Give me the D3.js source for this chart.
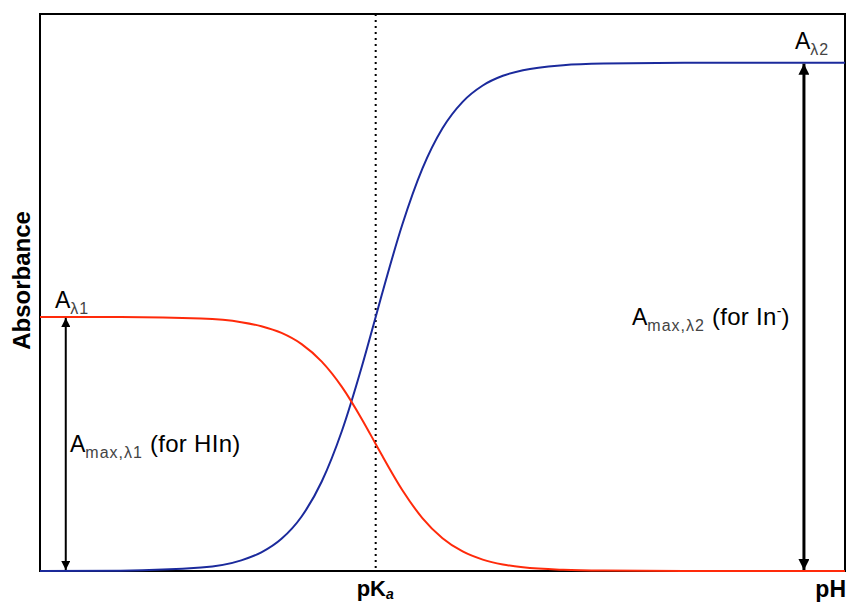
<!DOCTYPE html>
<html>
<head>
<meta charset="utf-8">
<script src="https://cdn.jsdelivr.net/npm/d3@7/dist/d3.min.js"></script>
<style>
  html, body { margin: 0; padding: 0; background: #ffffff; }
  svg { display: block; font-family: Arial, "Liberation Sans", Helvetica, sans-serif; }
</style>
</head>
<body>
<svg id="chart" width="847" height="602"></svg>
<script>
// ---- data ----
const pH = [0, 1, 2, 2.5, 2.75, 3, 3.25, 3.5, 3.75, 4, 4.17, 4.25, 4.5, 4.75, 5, 5.25, 5.5, 5.75, 6, 6.5, 7, 8, 9, 10];
const absLambda2 = [0.0001, 0.0007, 0.0067, 0.0209, 0.0366, 0.0633, 0.1073, 0.1761, 0.2755, 0.4034, 0.5, 0.5459, 0.6813, 0.7917, 0.8711, 0.9232, 0.9553, 0.9744, 0.9854, 0.9953, 0.9985, 0.9999, 1.0, 1.0];
const absLambda1 = [0.5, 0.4997, 0.4967, 0.4896, 0.4817, 0.4684, 0.4464, 0.4120, 0.3623, 0.2983, 0.25, 0.2271, 0.1594, 0.1042, 0.0645, 0.0384, 0.0224, 0.0128, 0.0073, 0.0024, 0.0008, 0.0001, 0, 0];
const pKa = 4.17;
const AmaxL1 = 0.5;
const AmaxL2 = 1.0;
const arrowPH = [0.32, 9.49];
const xAxisLabels = ["pK", "pH"];

// ---- layout ----
const svg = d3.select("#chart");
const L = 40, R = 845, T = 14, B = 571;
const x = d3.scaleLinear().domain([0, 10]).range([L, R]);
const y = d3.scaleLinear().domain([0, 1.096]).range([B, T]);

const pts1 = pH.map((p, i) => [p, absLambda1[i]]);
const pts2 = pH.map((p, i) => [p, absLambda2[i]]);

const defs = svg.append("defs");
function marker(id, w, h, orientStart) {
  defs.append("marker")
    .attr("id", id).attr("viewBox", "0 0 10 10")
    .attr("refX", 10).attr("refY", 5)
    .attr("markerUnits", "userSpaceOnUse")
    .attr("markerWidth", w).attr("markerHeight", h)
    .attr("orient", orientStart ? "auto-start-reverse" : "auto")
    .append("path").attr("d", "M0,0 L10,5 L0,10 z").attr("fill", "#000");
}
marker("arrS", 9, 9, true);
marker("arrE", 9, 9, false);
marker("arrS2", 11, 11, true);
marker("arrE2", 11, 11, false);

// frame
svg.append("rect").attr("x", L).attr("y", T).attr("width", R - L).attr("height", B - T)
  .attr("fill", "none").attr("stroke", "#000").attr("stroke-width", 2);

// dotted pKa line
svg.append("line").attr("x1", x(pKa)).attr("x2", x(pKa)).attr("y1", T).attr("y2", B)
  .attr("stroke", "#000").attr("stroke-width", 2).attr("stroke-dasharray", "2,4");

const line = d3.line().x(d => x(d[0])).y(d => y(d[1])).curve(d3.curveMonotoneX);

svg.append("path").datum(pts2).attr("d", line)
  .attr("fill", "none").attr("stroke", "#1b2a9c").attr("stroke-width", 2);
svg.append("path").datum(pts1).attr("d", line)
  .attr("fill", "none").attr("stroke", "#ff2a0a").attr("stroke-width", 2);

// arrows
svg.append("line").attr("x1", x(arrowPH[0])).attr("x2", x(arrowPH[0]))
  .attr("y1", y(AmaxL1) + 1).attr("y2", y(0) - 1)
  .attr("stroke", "#000").attr("stroke-width", 2)
  .attr("marker-start", "url(#arrS)").attr("marker-end", "url(#arrE)");
svg.append("line").attr("x1", x(arrowPH[1])).attr("x2", x(arrowPH[1]))
  .attr("y1", y(AmaxL2) + 1).attr("y2", y(0) - 1)
  .attr("stroke", "#000").attr("stroke-width", 3)
  .attr("marker-start", "url(#arrS2)").attr("marker-end", "url(#arrE2)");

// labels
function subLabel(px, py, main, sub, tail, sup) {
  const t = svg.append("text").attr("x", px).attr("y", py).attr("font-size", 23).attr("fill", "#000");
  t.append("tspan").text(main);
  t.append("tspan").attr("font-size", 16).attr("fill", "#444").attr("letter-spacing", 1).attr("dy", 6).text(sub);
  if (tail) {
    t.append("tspan").attr("dy", -6).attr("dx", 7).attr("font-size", 24).attr("letter-spacing", 0.3).text(tail);
    if (sup) {
      t.append("tspan").attr("font-size", 14).attr("dy", -9).text(sup);
      t.append("tspan").attr("dy", 9).attr("font-size", 24).text(")");
    }
  }
  return t;
}
subLabel(55, 308, "A", "λ1");
subLabel(795, 49, "A", "λ2");
subLabel(70, 452, "A", "max,λ1", "(for HIn)", null);
subLabel(632, 325, "A", "max,λ2", "(for In", "-");

// y axis title
svg.append("text").attr("transform", `translate(30,${(T + B) / 2 - 12}) rotate(-90)`)
  .attr("text-anchor", "middle").attr("font-size", 24).attr("font-weight", "bold").text("Absorbance");

// x axis labels
const pk = svg.append("text").attr("x", x(pKa) - 19).attr("y", 596)
  .attr("font-size", 22).attr("font-weight", "bold");
pk.append("tspan").text(xAxisLabels[0]);
pk.append("tspan").attr("font-size", 14).attr("dy", 3).attr("font-style", "italic").text("a");
svg.append("text").attr("x", 846).attr("y", 597).attr("text-anchor", "end")
  .attr("font-size", 23).attr("font-weight", "bold").text(xAxisLabels[1]);
</script>
</body>
</html>
